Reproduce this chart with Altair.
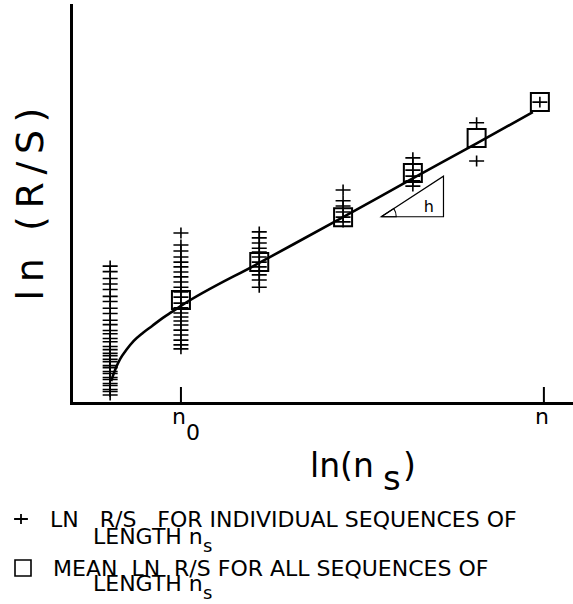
import altair as alt
import pandas as pd

# Rescaled range analysis: ln(R/S) against ln(n_s), both in plot units (0-10)

# x positions (ln n_s) of each group of sequences
group_x = [0.78, 2.19, 3.75, 5.42, 6.81, 8.08, 9.34]

# ln R/S of the individual sequences in each group
rs_group0 = [3.44, 3.30, 3.13, 2.99, 2.85, 2.68, 2.55, 2.38, 2.25, 2.08, 1.97, 1.82,
             1.74, 1.62, 1.54, 1.42, 1.34, 1.25, 1.19, 1.10, 1.04, 0.94, 0.89, 0.79,
             0.74, 0.64, 0.59, 0.49, 0.44, 0.34, 0.29, 0.20]
rs_group1 = [4.27, 3.97, 3.82, 3.67, 3.54, 3.42, 3.29, 3.17, 3.04, 2.91, 2.79, 2.66,
             2.51, 2.39, 2.26, 2.16, 2.06, 1.96, 1.83, 1.71, 1.58, 1.46, 1.36]
rs_group2 = [4.30, 4.15, 4.02, 3.89, 3.79, 3.67, 3.54, 3.42, 3.32, 3.22, 3.09, 2.91]
rs_group3 = [5.35, 5.08, 4.95, 4.80, 4.67, 4.55]
rs_group4 = [6.16, 6.01, 5.85, 5.70, 5.58, 5.45]
rs_group5 = [7.04, 6.08]
rs_group6 = [7.56]
individual_rs = [rs_group0, rs_group1, rs_group2, rs_group3, rs_group4, rs_group5, rs_group6]

# mean ln R/S of each group
mean_x = [2.19, 3.75, 5.42, 6.81, 8.08, 9.34]
mean_rs = [2.59, 3.54, 4.67, 5.78, 6.66, 7.56]

# fitted curve
fit_x = [0.80, 0.84, 0.90, 0.98, 1.10, 1.25, 1.43, 1.61, 1.83, 2.01, 2.19,
         3.75, 5.42, 6.79, 8.09, 9.20]
fit_y = [0.55, 0.70, 0.90, 1.11, 1.33, 1.56, 1.76, 1.93, 2.14, 2.29, 2.44,
         3.52, 4.67, 5.63, 6.53, 7.31]

# slope triangle (h)
tri_x = [6.18, 7.42, 7.42, 6.18]
tri_y = [4.68, 4.68, 5.70, 4.68]

# axis ticks
tick_x = [2.19, 9.42]
tick_main = ["n", "n"]
tick_sub = ["0", ""]

FONT = "DejaVu Sans"
CROSS = "M-1,0L1,0M0,-0.73L0,0.73"
SP = "\u00a0"  # non-collapsing space for the wide gaps in the key

pts = pd.DataFrame(
    [{"x": gx, "y": v} for gx, vals in zip(group_x, individual_rs) for v in vals]
)
means = pd.DataFrame({"x": mean_x, "y": mean_rs})
fit = pd.DataFrame({"x": fit_x, "y": fit_y, "o": list(range(len(fit_x)))})
tri = pd.DataFrame({"x": tri_x, "y": tri_y, "o": list(range(len(tri_x)))})
ticks = pd.DataFrame({"x": tick_x, "main": tick_main, "sub": tick_sub})
one = pd.DataFrame({"a": [0]})

xs = alt.Scale(domain=[0, 10], nice=False, zero=False)
ys = alt.Scale(domain=[0, 10], nice=False, zero=False)


def X(field="x"):
    return alt.X(f"{field}:Q", scale=xs, title=None)


def Y(field="y"):
    return alt.Y(f"{field}:Q", scale=ys, title=None)


crosses = alt.Chart(pts).mark_point(
    shape=CROSS, size=225, filled=False, color="black", strokeWidth=1.6, opacity=1
).encode(x=X(), y=Y())

boxes = alt.Chart(means).mark_point(
    shape="square", size=324, filled=False, color="black", strokeWidth=2, opacity=1
).encode(x=X(), y=Y())

curve = alt.Chart(fit).mark_line(
    color="black", strokeWidth=2.6, interpolate="monotone"
).encode(x=X(), y=Y(), order="o:Q")

triangle = alt.Chart(tri).mark_line(color="black", strokeWidth=1.2).encode(
    x=X(), y=Y(), order="o:Q"
)

angle_arc = alt.Chart(tri.iloc[[0]]).mark_arc(
    radius=15, theta=0.993, theta2=1.571, fillOpacity=0, stroke="black", strokeWidth=1.1
).encode(x=X(), y=Y())

h_label = alt.Chart(pd.DataFrame({"x": [7.13], "y": [4.92], "t": ["h"]})).mark_text(
    font=FONT, fontSize=16, align="center", baseline="middle", color="black"
).encode(x=X(), y=Y(), text="t:N")

tick_rules = alt.Chart(ticks).mark_rule(color="black", strokeWidth=2).encode(
    x=X(), y=alt.value(398), y2=alt.value(382)
)

tick_labels = alt.Chart(ticks).mark_text(
    font=FONT, fontSize=22, align="center", baseline="alphabetic", dx=-2, color="black"
).encode(x=X(), y=alt.value(419), text="main:N")

tick_subs = alt.Chart(ticks).mark_text(
    font=FONT, fontSize=22, align="center", baseline="alphabetic", dx=12, color="black"
).encode(x=X(), y=alt.value(435), text="sub:N")


def label(text, x, y, size, align="left", angle=0):
    return alt.Chart(one).mark_text(
        text=text, x=x, y=y, font=FONT, fontSize=size, align=align,
        baseline="alphabetic", angle=angle, color="black"
    )


T = "\u2009"
y_title = label(f"l{T}n{T} {T}({T}R{T}/{T}S{T})", -28, 199, 38, align="center", angle=270)
x_title = alt.layer(
    label("ln(n", 239, 472, 33),
    label("s", 312, 485, 34),
    label(")", 332, 472, 33),
)

legend_cross = alt.Chart(one).mark_point(
    shape=CROSS, size=190, filled=False, color="black", strokeWidth=1.8, opacity=1
).encode(x=alt.value(-50), y=alt.value(514))
legend_box = alt.Chart(one).mark_point(
    shape="square", size=256, filled=False, color="black", strokeWidth=1.6, opacity=1
).encode(x=alt.value(-48), y=alt.value(563))

legend_text = alt.layer(
    label(f"LN{SP}{SP} R/S{SP}{SP} FOR INDIVIDUAL SEQUENCES OF", -21, 522, 22),
    label("LENGTH n", 22, 539, 22),
    label("s", 132, 547, 18),
    label(f"MEAN{SP} LN{SP} R/S FOR ALL SEQUENCES OF", -18, 571, 22),
    label("LENGTH n", 22, 586, 22),
    label("s", 132, 594, 18),
)

chart = alt.layer(
    crosses, boxes, curve, triangle, angle_arc, h_label,
    tick_rules, tick_labels, tick_subs,
    y_title, x_title, legend_cross, legend_box, legend_text,
).properties(
    width=502,
    height=398,
    autosize=alt.AutoSizeParams(type="none"),
    padding={"left": 71, "top": 5, "right": 0, "bottom": 201},
    background="white",
).configure_view(
    stroke=None
).configure_axis(
    labels=False, ticks=False, grid=False, domainColor="black", domainWidth=3,
    domainCap="square",
)

chart.save("out.html", embed_options={"renderer": "svg", "actions": False})
